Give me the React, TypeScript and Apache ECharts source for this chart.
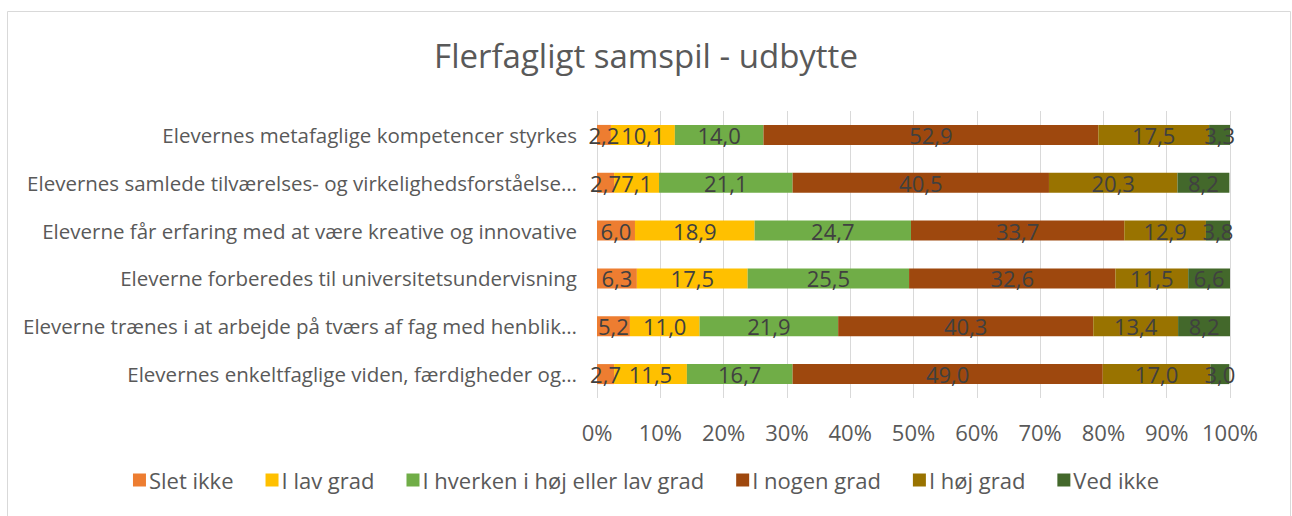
import React, { useEffect, useRef } from "react";
import * as echarts from "echarts";

const categories = [
  "Elevernes metafaglige kompetencer styrkes",
  "Elevernes samlede tilværelses- og virkelighedsforståelse…",
  "Eleverne får erfaring med at være kreative og innovative",
  "Eleverne forberedes til universitetsundervisning",
  "Eleverne trænes i at arbejde på tværs af fag med henblik…",
  "Elevernes enkeltfaglige viden, færdigheder og…",
];

const seriesNames = [
  "Slet ikke",
  "I lav grad",
  "I hverken i høj eller lav grad",
  "I nogen grad",
  "I høj grad",
  "Ved ikke",
];

const sletIkke = [2.2, 2.7, 6.0, 6.3, 5.2, 2.7];
const iLavGrad = [10.1, 7.1, 18.9, 17.5, 11.0, 11.5];
const iHverken = [14.0, 21.1, 24.7, 25.5, 21.9, 16.7];
const iNogenGrad = [52.9, 40.5, 33.7, 32.6, 40.3, 49.0];
const iHoejGrad = [17.5, 20.3, 12.9, 11.5, 13.4, 17.0];
const vedIkke = [3.3, 8.2, 3.8, 6.6, 8.2, 3.0];

const xTicks = [0, 10, 20, 30, 40, 50, 60, 70, 80, 90, 100];

const colors = ["#ED7D31", "#FFC000", "#70AD47", "#9E480E", "#997300", "#43682B"];

const FONT = "Open Sans";

export default function App() {
  const ref = useRef<HTMLDivElement>(null);
  useEffect(() => {
    if (!ref.current) return;
    const chart = echarts.init(ref.current, null, { renderer: "svg" });
    const all = [sletIkke, iLavGrad, iHverken, iNogenGrad, iHoejGrad, vedIkke];
    chart.setOption({
      animation: false,
      textStyle: { fontFamily: FONT },
      title: {
        text: "Flerfagligt samspil - udbytte",
        left: "center",
        top: 34,
        textStyle: { fontFamily: FONT, fontSize: 33, fontWeight: "normal", color: "#595959" },
      },
      graphic: [
        {
          type: "rect",
          shape: { x: 7.5, y: 11.5, width: 1283, height: 520 },
          style: { fill: "none", stroke: "#d9d9d9", lineWidth: 1 },
          silent: true,
        },
      ],
      legend: {
        bottom: 20,
        left: "center",
        itemWidth: 13,
        itemHeight: 13,
        itemGap: 32,
        icon: "rect",
        textStyle: { fontFamily: FONT, fontSize: 22, color: "#595959", padding: [0, 0, 0, -2] },
        data: seriesNames,
      },
      grid: {
        left: 597,
        right: 62,
        top: 111,
        bottom: 118,
        containLabel: false,
        outerBoundsMode: "none",
      },
      xAxis: {
        type: "value",
        min: xTicks[0],
        max: xTicks[xTicks.length - 1],
        interval: 10,
        axisLine: { show: false },
        axisTick: { show: false },
        splitLine: { lineStyle: { color: "#d9d9d9", width: 1 } },
        axisLabel: {
          formatter: (v: number) => v + "%",
          fontFamily: FONT,
          fontSize: 22,
          color: "#595959",
          margin: 23,
        },
      },
      yAxis: {
        type: "category",
        inverse: true,
        data: categories,
        axisLine: { show: false },
        axisTick: { show: false },
        axisLabel: { fontFamily: FONT, fontSize: 20.5, color: "#595959", margin: 20 },
      },
      series: seriesNames.map((name, i) => ({
        name,
        type: "bar",
        stack: "total",
        barWidth: 20,
        itemStyle: { color: colors[i] },
        label: {
          show: true,
          position: "inside",
          formatter: (p: any) => Number(p.value).toFixed(1).replace(".", ","),
          fontFamily: FONT,
          fontSize: 22,
          color: "#404040",
        },
        data: all[i],
      })),
    });
    return () => chart.dispose();
  }, []);
  return (
    <div
      ref={ref}
      style={{ position: "absolute", left: 0, top: 0, width: 1292, height: 516 }}
    />
  );
}
